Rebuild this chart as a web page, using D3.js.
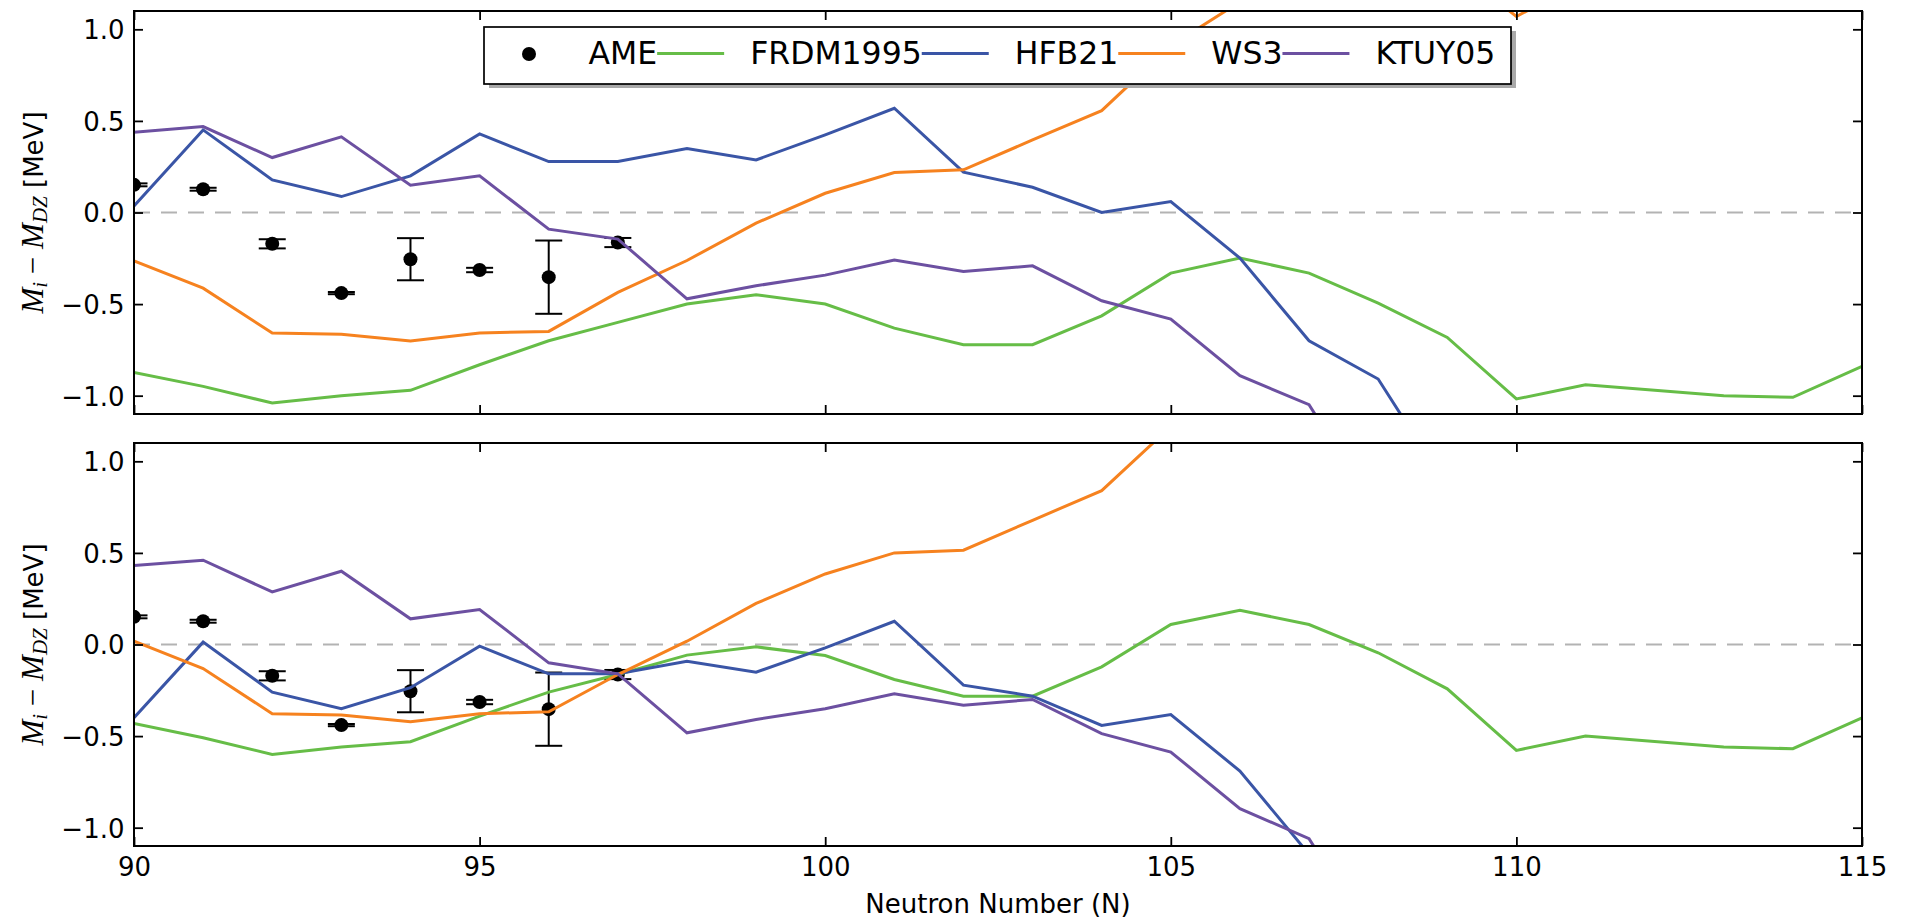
<!DOCTYPE html>
<html>
<head>
<meta charset="utf-8">
<script src="https://cdn.jsdelivr.net/npm/d3@7"></script>
<style>
  html, body { margin: 0; padding: 0; background: #ffffff; }
  svg { display: block; }
</style>
</head>
<body>
<div id="chart"></div>
<script>
// Neutron numbers shared by all model curves
const neutrons = [90, 91, 92, 93, 94, 95, 96, 97, 98, 99, 100, 101, 102, 103,
                  104, 105, 106, 107, 108, 109, 110, 111, 112, 113, 114, 115];

// Upper panel: model mass differences (MeV), null where a model has no value
const frdmUpper = [-0.873, -0.949, -1.04, -1.0, -0.971, -0.831, -0.70, -0.60, -0.50, -0.449,
                   -0.50, -0.631, -0.722, -0.722, -0.564, -0.331, -0.249, -0.331, -0.495, -0.682,
                   -1.018, -0.94, null, -1.0, -1.009, -0.84];
const hfbUpper  = [0.036, 0.451, 0.178, 0.087, 0.20, 0.429, 0.278, 0.278, 0.349, 0.287,
                   0.424, 0.569, 0.22, 0.138, 0.0, 0.06, -0.249, -0.70, -0.909, -1.5,
                   null, null, null, null, null, null];
const ws3Upper  = [-0.264, -0.413, -0.658, -0.665, -0.702, -0.658, -0.649, -0.436, -0.262, -0.058,
                   0.105, 0.218, 0.233, 0.396, 0.556, 0.91, 1.15, 1.3, 1.4, 1.37,
                   1.07, 1.27, null, null, null, null];
const ktuyUpper = [0.438, 0.469, 0.30, 0.413, 0.149, 0.20, -0.091, -0.145, -0.471, -0.40,
                   -0.342, -0.26, -0.322, -0.291, -0.482, -0.582, -0.891, -1.049, -1.65, null,
                   null, null, null, null, null, null];

// Lower panel: model mass differences (MeV)
const frdmLower = [-0.431, -0.509, -0.60, -0.56, -0.531, -0.391, -0.26, -0.164, -0.058, -0.013,
                   -0.06, -0.191, -0.282, -0.282, -0.122, 0.109, 0.187, 0.109, -0.045, -0.242,
                   -0.578, -0.50, null, -0.56, -0.569, -0.40];
const hfbLower  = [-0.40, 0.013, -0.26, -0.351, -0.236, -0.009, -0.16, -0.16, -0.091, -0.151,
                   -0.018, 0.127, -0.222, -0.282, -0.442, -0.382, -0.691, -1.145, -1.35, -1.94,
                   null, null, null, null, null, null];
const ws3Lower  = [0.018, -0.131, -0.378, -0.385, -0.422, -0.378, -0.367, -0.164, 0.018, 0.224,
                   0.385, 0.50, 0.515, 0.678, 0.84, 1.19, 1.43, 1.58, 1.68, 1.65,
                   1.35, 1.55, null, null, null, null];
const ktuyLower = [0.431, 0.46, 0.287, 0.40, 0.14, 0.191, -0.10, -0.16, -0.482, -0.409,
                   -0.351, -0.269, -0.331, -0.30, -0.487, -0.587, -0.896, -1.06, -1.66, null,
                   null, null, null, null, null, null];

// Measured (AME) values with uncertainties
const ameNeutrons = [90, 91, 92, 93, 94, 95, 96, 97];
const ameValues   = [0.151, 0.127, -0.171, -0.44, -0.255, -0.314, -0.353, -0.164];
const ameErrors   = [0.008, 0.008, 0.025, 0.006, 0.115, 0.012, 0.2, 0.025];

// Labels and ticks
const seriesNames  = ["FRDM1995", "HFB21", "WS3", "KTUY05"];
const seriesColors = ["#66bd47", "#3a55a6", "#f6821f", "#6c50a1"];
const xTicks = [90, 95, 100, 105, 110, 115];
const yTicks = [-1.0, -0.5, 0.0, 0.5, 1.0];
const xLabel = "Neutron Number (N)";

const W = 1912, H = 920;
const plotLeft = 134, plotRight = 1862;
const panelDefs = [
  { top: 11,  bottom: 414, values: [frdmUpper, hfbUpper, ws3Upper, ktuyUpper], legend: true,  xLabels: false },
  { top: 443, bottom: 846, values: [frdmLower, hfbLower, ws3Lower, ktuyLower], legend: false, xLabels: true }
];

const SANS = "'DejaVu Sans', 'Bitstream Vera Sans', sans-serif";
const SERIF = "'Liberation Serif', 'DejaVu Serif', serif";

const svg = d3.select("#chart").append("svg")
  .attr("width", W).attr("height", H)
  .attr("viewBox", `0 0 ${W} ${H}`);
svg.append("rect").attr("width", W).attr("height", H).attr("fill", "#ffffff");

const x = d3.scaleLinear().domain([90, 115]).range([plotLeft, plotRight]);

panelDefs.forEach((p, pi) => {
  const y = d3.scaleLinear().domain([-1.1, 1.1]).range([p.bottom, p.top]);
  const g = svg.append("g");
  const clipId = "clip" + pi;
  svg.append("clipPath").attr("id", clipId)
    .append("rect")
    .attr("x", plotLeft).attr("y", p.top)
    .attr("width", plotRight - plotLeft).attr("height", p.bottom - p.top);

  const plot = g.append("g").attr("clip-path", `url(#${clipId})`);

  // zero reference line
  plot.append("line")
    .attr("x1", x(90)).attr("x2", x(115))
    .attr("y1", y(0)).attr("y2", y(0))
    .attr("stroke", "#b3b3b3").attr("stroke-width", 2)
    .attr("stroke-dasharray", "16,11");

  // measured points with error bars
  const ame = ameNeutrons.map((n, i) => ({ n, v: ameValues[i], e: ameErrors[i] }));
  const eb = plot.append("g").attr("stroke", "#000").attr("stroke-width", 2);
  ame.forEach(d => {
    eb.append("line").attr("x1", x(d.n)).attr("x2", x(d.n))
      .attr("y1", y(d.v - d.e)).attr("y2", y(d.v + d.e));
    [d.v - d.e, d.v + d.e].forEach(c => {
      eb.append("line").attr("x1", x(d.n) - 13.5).attr("x2", x(d.n) + 13.5)
        .attr("y1", y(c)).attr("y2", y(c));
    });
  });
  plot.append("g").selectAll("circle").data(ame).join("circle")
    .attr("cx", d => x(d.n)).attr("cy", d => y(d.v)).attr("r", 7)
    .attr("fill", "#000");

  // model curves
  const line = d3.line().x(d => x(d.n)).y(d => y(d.v));
  p.values.forEach((vals, si) => {
    const pts = neutrons.map((n, i) => ({ n, v: vals[i] })).filter(d => d.v !== null);
    plot.append("path").datum(pts)
      .attr("d", line)
      .attr("fill", "none")
      .attr("stroke", seriesColors[si])
      .attr("stroke-width", 3)
      .attr("stroke-linejoin", "miter");
  });

  // axes: inward ticks on all four sides
  const styleAxis = sel => {
    sel.select(".domain").remove();
    sel.selectAll(".tick line").attr("stroke", "#000").attr("stroke-width", 1.8);
    sel.selectAll("text").attr("font-family", SANS).attr("font-size", 26).attr("fill", "#000");
  };

  const left = g.append("g").attr("transform", `translate(${plotLeft},0)`)
    .call(d3.axisLeft(y).tickValues(yTicks).tickFormat(d3.format(".1f")).tickSizeInner(-9).tickSizeOuter(0).tickPadding(9.5));
  styleAxis(left);
  left.selectAll("text").attr("dy", "0.36em");

  g.append("g").attr("transform", `translate(${plotRight},0)`)
    .call(d3.axisRight(y).tickValues(yTicks).tickFormat("").tickSizeInner(-9).tickSizeOuter(0))
    .call(styleAxis);

  g.append("g").attr("transform", `translate(0,${p.top})`)
    .call(d3.axisTop(x).tickValues(xTicks).tickFormat("").tickSizeInner(-9).tickSizeOuter(0))
    .call(styleAxis);

  const bottom = g.append("g").attr("transform", `translate(0,${p.bottom})`)
    .call(d3.axisBottom(x).tickValues(xTicks).tickFormat(p.xLabels ? d3.format("d") : "")
      .tickSizeInner(-9).tickSizeOuter(0).tickPadding(11.5));
  styleAxis(bottom);

  // frame
  g.append("rect")
    .attr("x", plotLeft).attr("y", p.top)
    .attr("width", plotRight - plotLeft).attr("height", p.bottom - p.top)
    .attr("fill", "none").attr("stroke", "#000").attr("stroke-width", 2);

  // y-axis label: M_i − M_DZ [MeV]
  const cy = (p.top + p.bottom) / 2;
  const yl = g.append("text")
    .attr("transform", `translate(43,${cy}) rotate(-90)`)
    .attr("text-anchor", "middle")
    .attr("font-size", 31).attr("fill", "#000");
  yl.append("tspan").attr("font-family", SERIF).attr("font-style", "italic").text("M");
  yl.append("tspan").attr("font-family", SERIF).attr("font-style", "italic")
    .attr("font-size", 21).attr("dy", 4).text("i");
  yl.append("tspan").attr("font-family", SERIF).attr("dy", -4).text(" \u2212 ");
  yl.append("tspan").attr("font-family", SERIF).attr("font-style", "italic").text("M");
  yl.append("tspan").attr("font-family", SERIF).attr("font-style", "italic")
    .attr("font-size", 21).attr("dy", 4).text("DZ");
  yl.append("tspan").attr("font-family", SANS).attr("font-size", 26).attr("dy", -4).text(" [MeV]");

  // legend
  if (p.legend) {
    const lg = g.append("g");
    const bx = 484, by = 27, bw = 1027, bh = 57;
    lg.append("rect").attr("x", bx + 5).attr("y", by + 4).attr("width", bw).attr("height", bh)
      .attr("fill", "#a9a9a9");
    lg.append("rect").attr("x", bx).attr("y", by).attr("width", bw).attr("height", bh)
      .attr("fill", "#fff").attr("stroke", "#000").attr("stroke-width", 1.7);

    const handleLen = 67, textPad = 26, midY = 53.5, baseY = 64.3;
    let cx = 495.5;
    const entries = [{ name: "AME", marker: true }]
      .concat(seriesNames.map((s, i) => ({ name: s, color: seriesColors[i] })));
    entries.forEach(e => {
      if (e.marker) {
        lg.append("circle").attr("cx", cx + handleLen / 2).attr("cy", midY + 0.5).attr("r", 7).attr("fill", "#000");
      } else {
        lg.append("line").attr("x1", cx).attr("x2", cx + handleLen)
          .attr("y1", midY).attr("y2", midY)
          .attr("stroke", e.color).attr("stroke-width", 3);
      }
      const t = lg.append("text")
        .attr("x", cx + handleLen + textPad).attr("y", baseY)
        .attr("font-family", SANS).attr("font-size", 31.5).attr("fill", "#000")
        .text(e.name);
      cx = cx + handleLen + textPad + t.node().getComputedTextLength();
    });
  }
});

// shared x-axis label
svg.append("text")
  .attr("x", (plotLeft + plotRight) / 2).attr("y", 913)
  .attr("text-anchor", "middle")
  .attr("font-family", SANS).attr("font-size", 26).attr("fill", "#000")
  .text(xLabel);
</script>
</body>
</html>
